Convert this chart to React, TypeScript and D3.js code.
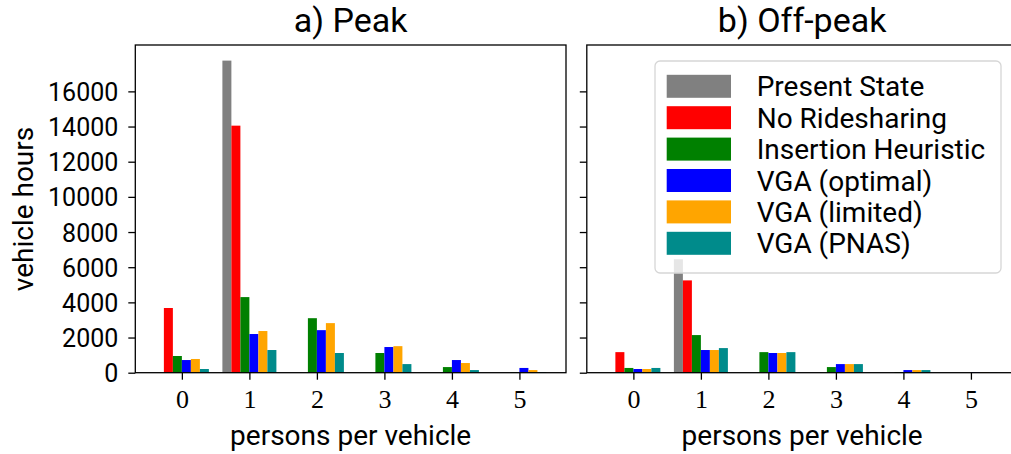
import { useEffect, useRef } from "react";
import * as d3 from "d3";

const categories = [0, 1, 2, 3, 4, 5];
const seriesNames = [
  "Present State",
  "No Ridesharing",
  "Insertion Heuristic",
  "VGA (optimal)",
  "VGA (limited)",
  "VGA (PNAS)",
];
const seriesColors = ["#808080", "#ff0000", "#008000", "#0000ff", "#ffa500", "#008b8b"];

// a) Peak
const peakPresent = [0, 17750, 0, 0, 0, 0];
const peakNoRidesharing = [3680, 14050, 0, 0, 0, 0];
const peakInsertion = [950, 4300, 3100, 1120, 320, 40];
const peakOptimal = [720, 2200, 2420, 1460, 720, 270];
const peakLimited = [780, 2370, 2820, 1510, 550, 150];
const peakPnas = [210, 1290, 1120, 490, 150, 40];

// b) Off-peak
const offPresent = [0, 6450, 0, 0, 0, 0];
const offNoRidesharing = [1170, 5250, 0, 0, 0, 0];
const offInsertion = [270, 2140, 1170, 320, 40, 0];
const offOptimal = [210, 1290, 1120, 490, 150, 40];
const offLimited = [210, 1290, 1120, 490, 150, 35];
const offPnas = [270, 1400, 1170, 490, 150, 10];

const yTicks = [0, 2000, 4000, 6000, 8000, 10000, 12000, 14000, 16000];

const panels = [
  {
    title: "a) Peak",
    left: 135.3,
    series: [peakPresent, peakNoRidesharing, peakInsertion, peakOptimal, peakLimited, peakPnas],
    yLabels: true,
    legend: false,
  },
  {
    title: "b) Off-peak",
    left: 586.8,
    series: [offPresent, offNoRidesharing, offInsertion, offOptimal, offLimited, offPnas],
    yLabels: false,
    legend: true,
  },
];

const sans = "Roboto, 'DejaVu Sans', sans-serif";
const serif = "'Liberation Serif', 'DejaVu Serif', serif";

export default function App() {
  const svgRef = useRef<SVGSVGElement>(null);

  useEffect(() => {
    if (!svgRef.current) return;
    const svg = d3.select(svgRef.current);
    svg.selectAll("*").remove();

    const width = 1011;
    const height = 454;
    const top = 45;
    const bottom = 372.7;
    const panelW = 430.7;
    const barW = 0.8 / 6;

    svg.attr("width", width).attr("height", height);
    svg.append("rect").attr("width", width).attr("height", height).attr("fill", "#fff");

    const allMax = d3.max(panels.flatMap(p => p.series.flat())) as number;
    const y = d3.scaleLinear().domain([0, allMax * 1.05]).range([bottom, top]);

    panels.forEach(p => {
      const x = d3.scaleLinear().domain([-0.69, 5.69]).range([p.left, p.left + panelW]);
      const g = svg.append("g");

      p.series.forEach((vals, i) => {
        g.append("g")
          .selectAll("rect")
          .data(vals.map((v, j) => ({ v, c: categories[j] })).filter(d => d.v > 0))
          .enter()
          .append("rect")
          .attr("x", d => x(d.c + (i - 3) * barW))
          .attr("width", x(barW) - x(0))
          .attr("y", d => y(d.v))
          .attr("height", d => y(0) - y(d.v))
          .attr("fill", seriesColors[i]);
      });

      // x axis
      const xa = g.append("g")
        .attr("transform", `translate(0,${bottom})`)
        .call(
          d3.axisBottom(x)
            .tickValues(categories)
            .tickFormat(d3.format("d"))
            .tickSize(7)
            .tickSizeOuter(0)
        );
      xa.select(".domain").remove();
      xa.selectAll("line").attr("stroke", "#000").attr("stroke-width", 1.3);
      xa.selectAll("text")
        .attr("y", 35.3)
        .attr("dy", null)
        .attr("fill", "#000")
        .style("font-family", serif)
        .style("font-size", "26px");

      // y axis
      const ya = g.append("g")
        .attr("transform", `translate(${p.left},0)`)
        .call(
          d3.axisLeft(y)
            .tickValues(yTicks)
            .tickFormat(d3.format("d"))
            .tickSize(7)
            .tickSizeOuter(0)
            .tickPadding(10)
        );
      ya.select(".domain").remove();
      ya.selectAll("line").attr("stroke", "#000").attr("stroke-width", 1.3);
      if (p.yLabels) {
        ya.selectAll("text")
          .attr("dy", "0.36em")
          .attr("fill", "#000")
          .style("font-family", sans)
          .style("font-size", "25px");
      } else {
        ya.selectAll("text").remove();
      }

      // frame
      g.append("rect")
        .attr("x", p.left)
        .attr("y", top)
        .attr("width", panelW)
        .attr("height", bottom - top)
        .attr("fill", "none")
        .attr("stroke", "#000")
        .attr("stroke-width", 1.3);

      const cx = p.left + panelW / 2;
      g.append("text")
        .attr("x", cx)
        .attr("y", 32)
        .attr("text-anchor", "middle")
        .style("font-family", sans)
        .style("font-size", "34px")
        .text(p.title);

      g.append("text")
        .attr("x", cx)
        .attr("y", 445)
        .attr("text-anchor", "middle")
        .style("font-family", sans)
        .style("font-size", "28px")
        .text("persons per vehicle");

      if (p.legend) {
        const lg = g.append("g");
        lg.append("rect")
          .attr("x", 655)
          .attr("y", 61)
          .attr("width", 346)
          .attr("height", 212)
          .attr("rx", 5)
          .attr("fill", "#fff")
          .attr("fill-opacity", 0.8)
          .attr("stroke", "#d6d6d6")
          .attr("stroke-width", 1.3);
        seriesNames.forEach((name, i) => {
          const cy = 86.3 + i * 31.4;
          lg.append("rect")
            .attr("x", 666.7)
            .attr("y", cy - 11.5)
            .attr("width", 64.3)
            .attr("height", 23)
            .attr("fill", seriesColors[i]);
          lg.append("text")
            .attr("x", 756.7)
            .attr("y", cy + 10)
            .style("font-family", sans)
            .style("font-size", "28px")
            .text(name);
        });
      }
    });

    svg.append("text")
      .attr("transform", `translate(33,209) rotate(-90)`)
      .attr("text-anchor", "middle")
      .style("font-family", sans)
      .style("font-size", "28px")
      .text("vehicle hours");
  }, []);

  return (
    <svg
      ref={svgRef}
      style={{ position: "absolute", left: 0, top: 0, display: "block" }}
    />
  );
}
